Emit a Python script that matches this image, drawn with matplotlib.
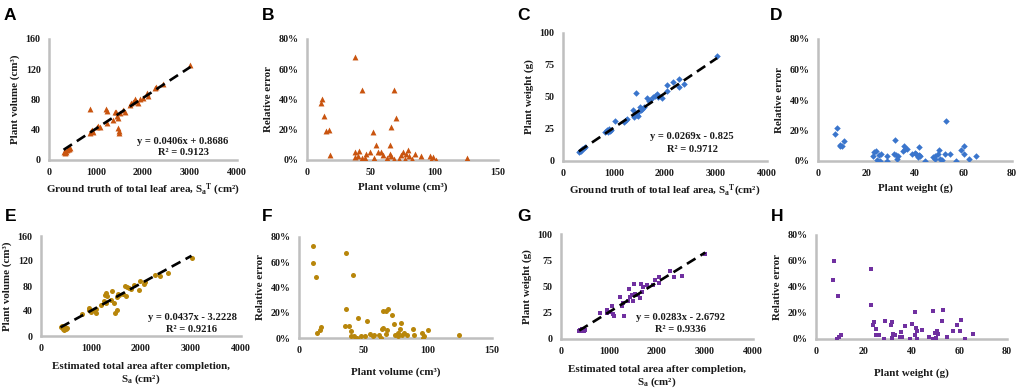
import numpy as np
import matplotlib
matplotlib.use("Agg")
import matplotlib.pyplot as plt
from matplotlib.ticker import FuncFormatter

plt.rcParams['font.family'] = ['Liberation Serif', 'DejaVu Serif']
plt.rcParams['font.weight'] = 'bold'
plt.rcParams['mathtext.fontset'] = 'custom'
plt.rcParams['mathtext.rm'] = 'Liberation Serif:bold'
plt.rcParams['mathtext.it'] = 'Liberation Serif:bold'
plt.rcParams['mathtext.bf'] = 'Liberation Serif:bold'

# ---------------- data ----------------
# A: ground truth leaf area vs plant volume
a_area = [310, 330, 345, 360, 380, 400, 420, 440,
          870, 880, 900, 910, 930, 1020, 1050, 1080,
          1220, 1225, 1240, 1360, 1400, 1430, 1447, 1468, 1470, 1482, 1490, 1518,
          1575, 1610, 1716, 1752, 1787, 1823, 1858, 1894, 1929, 2000, 2092, 2106,
          2248, 2284, 2426, 3010]
a_vol = [10, 9, 12, 11, 13, 14, 15, 16,
         36, 67, 38, 40, 37, 43, 45, 44,
         68, 65, 49, 53, 64, 63, 58, 55, 42, 38, 36, 62,
         66, 64, 73, 75, 77, 80, 78, 75, 80, 82, 88, 84,
         95, 96, 100, 125]
a_fit = (0.0406, 0.8686)

# B: plant volume vs relative error (%)
b_vol = [11.3, 11.8, 13.4, 14.9, 17.0, 18.3,
         37.4, 38.0, 38.0, 40.0, 41.0, 43.0, 43.2, 45.8, 46.3, 49.7, 51.8, 52.9,
         54.2, 55.8, 58.4, 59.4, 62.8, 65.0, 65.0, 65.7, 66.0, 68.2, 68.6, 70.2,
         72.5, 74.0, 75.0, 76.6, 78.0, 79.3, 80.4, 82.5, 84.6, 89.8, 96.9, 97.6,
         98.7, 101.6, 126.0]
b_err = [38, 40.5, 29, 19.4, 20, 3,
         5, 2, 68, 2.4, 5.7, 1.3, 46.5, 1.3, 4.2, 5, 18.7, 1.3,
         10, 5, 5, 3.5, 1.3, 4.2, 9.7, 22, 2.4, 0.7, 46, 27.7,
         0.7, 3.5, 5, 0.7, 4.2, 6.4, 2.9, 0.7, 4.2, 2.4, 2.9, 0.2,
         2, 0, 1.3]

# C: ground truth leaf area vs plant weight
c_area = [310, 330, 350, 380, 410, 440,
          830, 860, 880, 900, 920, 950,
          1020, 1200, 1230, 1260,
          1380, 1400, 1420, 1440, 1450, 1470, 1480, 1500, 1520, 1540, 1580,
          1650, 1680, 1710, 1760, 1800, 1840, 1870, 1950,
          2040, 2040, 2150, 2270, 2280, 2370, 3020]
c_wt = [7, 7.5, 8, 9, 10, 11,
        23, 24, 22.5, 25, 23.5, 24,
        31, 30.5, 32, 33,
        40, 34, 37, 53, 36, 35, 38, 42, 40, 41, 42,
        49, 47, 48, 50, 51, 52, 50, 49,
        59, 55, 62, 64, 58, 60, 82]
c_fit = (0.0269, -0.825)

# D: plant weight vs relative error (%)
d_wt = [7.1, 7.8, 8.9, 9.2, 9.9, 10.6,
        22.8, 23.1, 24.0, 24.5, 25.1, 25.4, 25.8, 28.6, 28.6, 31.3, 31.9, 32.3,
        32.7, 33.0, 35.1, 35.5, 35.7, 36.8, 38.9, 39.9, 40.5, 41.2, 41.5, 41.6,
        42.2, 44.0, 47.4, 48.1, 48.4, 49.5, 49.9, 50.4, 51.3, 52.5, 52.9, 54.6,
        57.0, 58.8, 60.1, 60.1, 62.1, 65.3]
d_err = [18, 21.8, 10.3, 9.7, 9.9, 13.2,
         3.1, 5.9, 6.6, 0.9, 4.2, 0, 4.8, 0, 3.1, 4.6, 14, 3.7,
         1.1, 3.1, 6.6, 10.1, 8.1, 7.9, 4.8, 5.3, 4.4, 2.6, 9.2, 3.7,
         3.1, 0, 2.6, 3.5, 1.1, 4.4, 7.5, 1.5, 0.9, 4.8, 26.4, 4.4,
         0, 7, 9.7, 4.8, 1.3, 3.5]

# E: estimated total area vs plant volume
e_area = [390, 410, 430, 450, 470, 490, 510,
          820, 950, 960, 1000, 1050, 1090, 1100, 1200, 1250, 1270, 1290, 1300,
          1310, 1400, 1420, 1450, 1480, 1510, 1520, 1540, 1560, 1640, 1680, 1690,
          1720, 1760, 1800, 1850, 1950, 1970, 2060, 2070, 2270, 2380, 2540, 3010]
e_vol = [14, 16, 12, 10, 15, 11, 13,
         36, 45, 41, 39, 42, 37, 44, 50, 56, 66, 69, 53,
         64, 58, 72, 53, 37, 42, 63, 68, 65, 67, 80, 64,
         78, 77, 76, 82, 74, 88, 83, 87, 97, 96, 101, 125]
e_fit = (0.0437, -3.2228)

# F: plant volume vs relative error (%)
f_vol = [11.2, 10.9, 13.0, 14.3, 16.4, 17.4,
         36.9, 36.4, 36.1, 38.7, 40.3, 40.3, 42.3, 42.9, 45.5, 44.9, 48.0, 51.2,
         53.2, 55.0, 57.7, 58.4, 62.0, 64.0, 64.7, 65.0, 65.5, 67.5, 68.0, 68.3,
         69.4, 72.0, 74.0, 74.5, 76.6, 76.6, 78.4, 79.2, 79.7, 81.3, 83.6, 88.8,
         89.0, 95.8, 96.1, 97.4, 100.5, 124.7]
f_err = [73, 59.5, 48.4, 4.2, 6.1, 8.7,
         67.7, 23.3, 9.3, 9.3, 5.3, 1.6, 49.7, 1.6, 15.9, 0.3, 1.6, 1.6,
         13.5, 3.4, 1.6, 2.6, 2.6, 0.3, 6.9, 21.4, 8.2, 21.2, 3.4, 6.6,
         22.8, 18, 11.1, 2.1, 4.2, 1.3, 6.9, 12.2, 2.1, 4.2, 2.6, 7.4,
         2.1, 4.2, 0.3, 1.6, 6.1, 2.1]

# G: estimated total area vs plant weight
g_area = [380, 400, 420, 440, 460, 480, 500,
          814, 953, 967, 1009, 1057, 1080, 1106, 1231, 1266, 1301, 1315, 1405,
          1426, 1440, 1475, 1510, 1523, 1544, 1614, 1649, 1670, 1683, 1718, 1788,
          1927, 1948, 2045, 2052, 2261, 2358, 2518, 3005]
g_wt = [8, 9, 7.6, 10, 8.5, 7.8, 9,
        24.5, 27.7, 24.5, 26, 31, 24, 22, 40.4, 31.8, 34, 22.3, 36.3,
        47.8, 40.4, 42, 36.3, 52.2, 42.7, 42, 39.5, 52, 45, 50, 51,
        51.6, 56.4, 59, 53.2, 64.3, 58.6, 59.9, 81.2]
g_fit = (0.0283, -2.6792)

# H: plant weight vs relative error (%)
h_wt = [7.7, 7.3, 9.1, 8.7, 9.7, 10.5,
        23.1, 23.1, 24.3, 24.0, 25.0, 25.2, 26.2, 28.3, 28.7, 31.5, 32.0, 32.0,
        32.4, 32.9, 35.2, 35.7, 36.2, 37.1, 39.2, 40.1, 41.3, 41.5, 42.0, 42.2,
        42.4, 44.3, 47.4, 48.8, 48.9, 49.9, 50.2, 50.6, 51.3, 52.7, 53.3, 54.8,
        57.2, 59.0, 60.4, 60.7, 62.2, 65.6]
h_err = [59.7, 45.6, 33, 0.3, 1.5, 2.8,
         53.6, 25.9, 13, 11, 8, 2.8, 2.8, 0.3, 14.1, 11, 13, 0.8,
         4.1, 3.3, 1.5, 5.4, 1.5, 9.7, 0, 11.8, 3.3, 20.8, 8.5, 5.9,
         0, 6.7, 1.5, 0, 21.5, 4.9, 0.8, 5.9, 4.1, 13.8, 22, 1.5,
         5.9, 10.5, 5.9, 14.9, 0, 4.1]

# ---------------- styling ----------------
W, H = 1021, 391
fig = plt.figure(figsize=(W / 100, H / 100), dpi=100)

SPINE = '#BFBFBF'
TXT = '#1a1a1a'
C_ORANGE = '#C9540F'
C_BLUE = '#3A75CC'
C_GOLD = '#B8860B'
C_PURPLE = '#7030A0'


def px_axes(left, right, top, bottom):
    return fig.add_axes([left / W, 1 - bottom / H, (right - left) / W, (bottom - top) / H])


def style(ax, xlim, xticks, ylim, yticks, pct=False):
    ax.set_xlim(*xlim)
    ax.set_ylim(*ylim)
    ax.set_xticks(xticks)
    ax.set_yticks(yticks)
    for s in ['top', 'right']:
        ax.spines[s].set_visible(False)
    for s in ['left', 'bottom']:
        ax.spines[s].set_color(SPINE)
        ax.spines[s].set_linewidth(1.8)
        ax.spines[s].set_zorder(0.5)
    ax.tick_params(length=0, labelsize=7.2, colors=TXT, pad=6)
    for lab in ax.get_xticklabels() + ax.get_yticklabels():
        lab.set_fontweight('bold')
    if pct:
        ax.yaxis.set_major_formatter(FuncFormatter(lambda v, p: f"{int(round(v))}%"))
    ax.patch.set_alpha(0)


def trend(ax, x, fit):
    xs = np.array([min(x), max(x)])
    ax.plot(xs, np.polyval(fit, xs), color='black', lw=1.9, ls=(0, (3.8, 2.2)), zorder=4)


def eq_text(xpx, ypx, fit, r2):
    sign = '+' if fit[1] >= 0 else '-'
    fig.text(xpx / W, 1 - ypx / H, f"y = {fit[0]:.4g}x {sign} {abs(fit[1]):.5g}",
             ha='center', va='center', fontsize=7.6, fontweight='bold', color=TXT)
    fig.text(xpx / W, 1 - (ypx + 12) / H, f"R² = {r2}",
             ha='center', va='center', fontsize=7.6, fontweight='bold', color=TXT)


LAB = 7.9
letters = [('A', 4, 8), ('B', 262, 8), ('C', 517, 8), ('D', 770, 8),
           ('E', 5, 209), ('F', 262, 209), ('G', 517, 209), ('H', 771, 209)]
for t, x, y in letters:
    fig.text(x / W, 1 - y / H, t, ha='left', va='top', fontsize=12.5,
             fontweight='bold', family='Liberation Sans', color='black')

MS_TRI, MS_DIA, MS_CIR, MS_SQ = 18, 11, 13, 10

# A
ax = px_axes(49, 237, 39, 160)
style(ax, (0, 4000), range(0, 4001, 1000), (0, 160), range(0, 161, 40))
ax.scatter(a_area, a_vol, marker='^', s=MS_TRI, color=C_ORANGE, lw=0, zorder=3)
trend(ax, a_area, a_fit)
ax.set_ylabel('Plant volume (cm³)', fontsize=LAB, fontweight='bold', color=TXT, labelpad=4)
ax.set_xlabel('Ground truth of total leaf area, S$_\\mathrm{a}$$^\\mathrm{T}$ (cm²)',
              fontsize=LAB, fontweight='bold', color=TXT, labelpad=3)
eq_text(183, 141, a_fit, '0.9123')

# B
ax = px_axes(307, 498, 39, 160)
style(ax, (0, 150), range(0, 151, 50), (0, 80), range(0, 81, 20), pct=True)
ax.scatter(b_vol, b_err, marker='^', s=MS_TRI, color=C_ORANGE, lw=0, zorder=3)
ax.set_ylabel('Relative error', fontsize=LAB, fontweight='bold', color=TXT, labelpad=4)
ax.set_xlabel('Plant volume (cm³)', fontsize=LAB, fontweight='bold', color=TXT, labelpad=4)

# C
ax = px_axes(563, 767, 33, 161)
style(ax, (0, 4000), range(0, 4001, 1000), (0, 100), range(0, 101, 25))
ax.scatter(c_area, c_wt, marker='D', s=MS_DIA, color=C_BLUE, lw=0, zorder=3)
trend(ax, c_area, c_fit)
ax.set_ylabel('Plant weight (g)', fontsize=LAB, fontweight='bold', color=TXT, labelpad=4)
ax.set_xlabel('Ground truth of total leaf area, S$_\\mathrm{a}$$^\\mathrm{T}$(cm²)',
              fontsize=LAB, fontweight='bold', color=TXT, labelpad=3)
eq_text(692, 137, c_fit, '0.9712')

# D
ax = px_axes(818, 1012, 39, 161)
style(ax, (0, 80), range(0, 81, 20), (0, 80), range(0, 81, 20), pct=True)
ax.scatter(d_wt, d_err, marker='D', s=MS_DIA, color=C_BLUE, lw=0, zorder=3)
ax.set_ylabel('Relative error', fontsize=LAB, fontweight='bold', color=TXT, labelpad=4)
ax.set_xlabel('Plant weight (g)', fontsize=LAB, fontweight='bold', color=TXT, labelpad=4)

# E
ax = px_axes(41, 241, 236, 336)
style(ax, (0, 4000), range(0, 4001, 1000), (0, 160), range(0, 161, 40))
ax.scatter(e_area, e_vol, marker='o', s=MS_CIR, color=C_GOLD, lw=0, zorder=3)
trend(ax, e_area, e_fit)
ax.set_ylabel('Plant volume (cm³)', fontsize=LAB, fontweight='bold', color=TXT, labelpad=4)
ax.set_xlabel('Estimated total area after completion,\nS$_\\mathrm{a}$ (cm²)',
              fontsize=LAB, fontweight='bold', color=TXT, labelpad=6, linespacing=1.15)
eq_text(192, 317, e_fit, '0.9216')

# F
ax = px_axes(299, 492, 237, 338)
style(ax, (0, 150), range(0, 151, 50), (0, 80), range(0, 81, 20), pct=True)
ax.scatter(f_vol, f_err, marker='o', s=MS_CIR, color=C_GOLD, lw=0, zorder=3)
ax.set_ylabel('Relative error', fontsize=LAB, fontweight='bold', color=TXT, labelpad=4)
ax.set_xlabel('Plant volume (cm³)', fontsize=LAB, fontweight='bold', color=TXT, labelpad=9)

# G
ax = px_axes(561, 753, 234, 339)
style(ax, (0, 4000), range(0, 4001, 1000), (0, 100), range(0, 101, 25))
ax.scatter(g_area, g_wt, marker='s', s=MS_SQ, color=C_PURPLE, lw=0, zorder=3)
trend(ax, g_area, g_fit)
ax.set_ylabel('Plant weight (g)', fontsize=LAB, fontweight='bold', color=TXT, labelpad=4)
ax.set_xlabel('Estimated total area after completion,\nS$_\\mathrm{a}$ (cm²)',
              fontsize=LAB, fontweight='bold', color=TXT, labelpad=6, linespacing=1.15)
eq_text(680, 318, g_fit, '0.9336')

# H
ax = px_axes(816, 1007, 235, 339)
style(ax, (0, 80), range(0, 81, 20), (0, 80), range(0, 81, 20), pct=True)
ax.scatter(h_wt, h_err, marker='s', s=MS_SQ, color=C_PURPLE, lw=0, zorder=3)
ax.set_ylabel('Relative error', fontsize=LAB, fontweight='bold', color=TXT, labelpad=4)
ax.set_xlabel('Plant weight (g)', fontsize=LAB, fontweight='bold', color=TXT, labelpad=9)

fig.savefig('out.png', dpi=100)
